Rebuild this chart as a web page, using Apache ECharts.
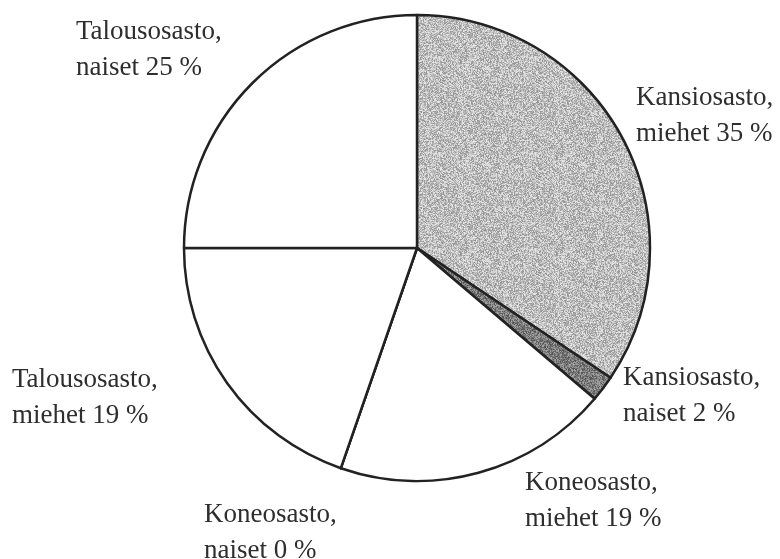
<!DOCTYPE html>
<html>
<head>
<meta charset="utf-8">
<script src="https://cdn.jsdelivr.net/npm/echarts@6/dist/echarts.min.js"></script>
<style>
  html, body { margin: 0; padding: 0; background: #fff; }
  #chart { width: 780px; height: 559px; }
</style>
</head>
<body>
<div id="chart"></div>
<script>
// osastot ja sukupuolet, myötäpäivään ylhäältä alkaen
const departments = ["Kansiosasto", "Kansiosasto", "Koneosasto", "Koneosasto", "Talousosasto", "Talousosasto"];
const groups = ["miehet", "naiset", "miehet", "naiset", "miehet", "naiset"];
const shares = [34.4, 1.8, 19.1, 0, 19.7, 25]; // sektorien koot kuvasta
const shownPct = [35, 2, 19, 0, 19, 25];        // tekstissä näkyvät prosentit

// tekstien paikat (vasen yläkulma)
const labelPos = [[636, 80], [623, 360], [525, 465], [204, 497], [12, 362], [76, 14]];

// rakeinen harmaa pinta, deterministinen kohina
function grain(base, spread, seed) {
  const c = document.createElement("canvas");
  c.width = 96; c.height = 96;
  const ctx = c.getContext("2d");
  const img = ctx.createImageData(96, 96);
  let s = seed;
  for (let i = 0; i < 96 * 96; i++) {
    s = (s * 1103515245 + 12345) & 0x7fffffff;
    const v = Math.max(0, Math.min(255, base + ((s >> 8) % (2 * spread)) - spread));
    img.data[i * 4] = v; img.data[i * 4 + 1] = v; img.data[i * 4 + 2] = v; img.data[i * 4 + 3] = 255;
  }
  ctx.putImageData(img, 0, 0);
  return { image: c, repeat: "repeat" };
}

const fills = [grain(190, 45, 7), grain(125, 45, 11), "#fff", "#fff", "#fff", "#fff"];

const chart = echarts.init(document.getElementById("chart"));
chart.setOption({
  backgroundColor: "#fff",
  animation: false,
  series: [{
    type: "pie",
    center: [417, 248],
    radius: 233,
    startAngle: 90,
    clockwise: true,
    avoidLabelOverlap: false,
    stillShowZeroSum: true,
    itemStyle: { borderColor: "#222", borderWidth: 2.5 },
    emphasis: { disabled: true },
    labelLine: { show: false },
    label: {
      show: true,
      position: "outside",
      fontFamily: "Liberation Serif",
      fontSize: 27,
      lineHeight: 36,
      color: "#2e2e2e",
      align: "left",
      formatter: p => departments[p.dataIndex] + ",\n" + groups[p.dataIndex] + " " + shownPct[p.dataIndex] + " %"
    },
    labelLayout: p => ({
      x: labelPos[p.dataIndex][0],
      y: labelPos[p.dataIndex][1],
      align: "left",
      verticalAlign: "top",
      hideOverlap: false
    }),
    data: shares.map((v, i) => ({
      value: v,
      name: departments[i] + " " + groups[i],
      itemStyle: { color: fills[i] }
    }))
  }]
});
</script>
</body>
</html>
